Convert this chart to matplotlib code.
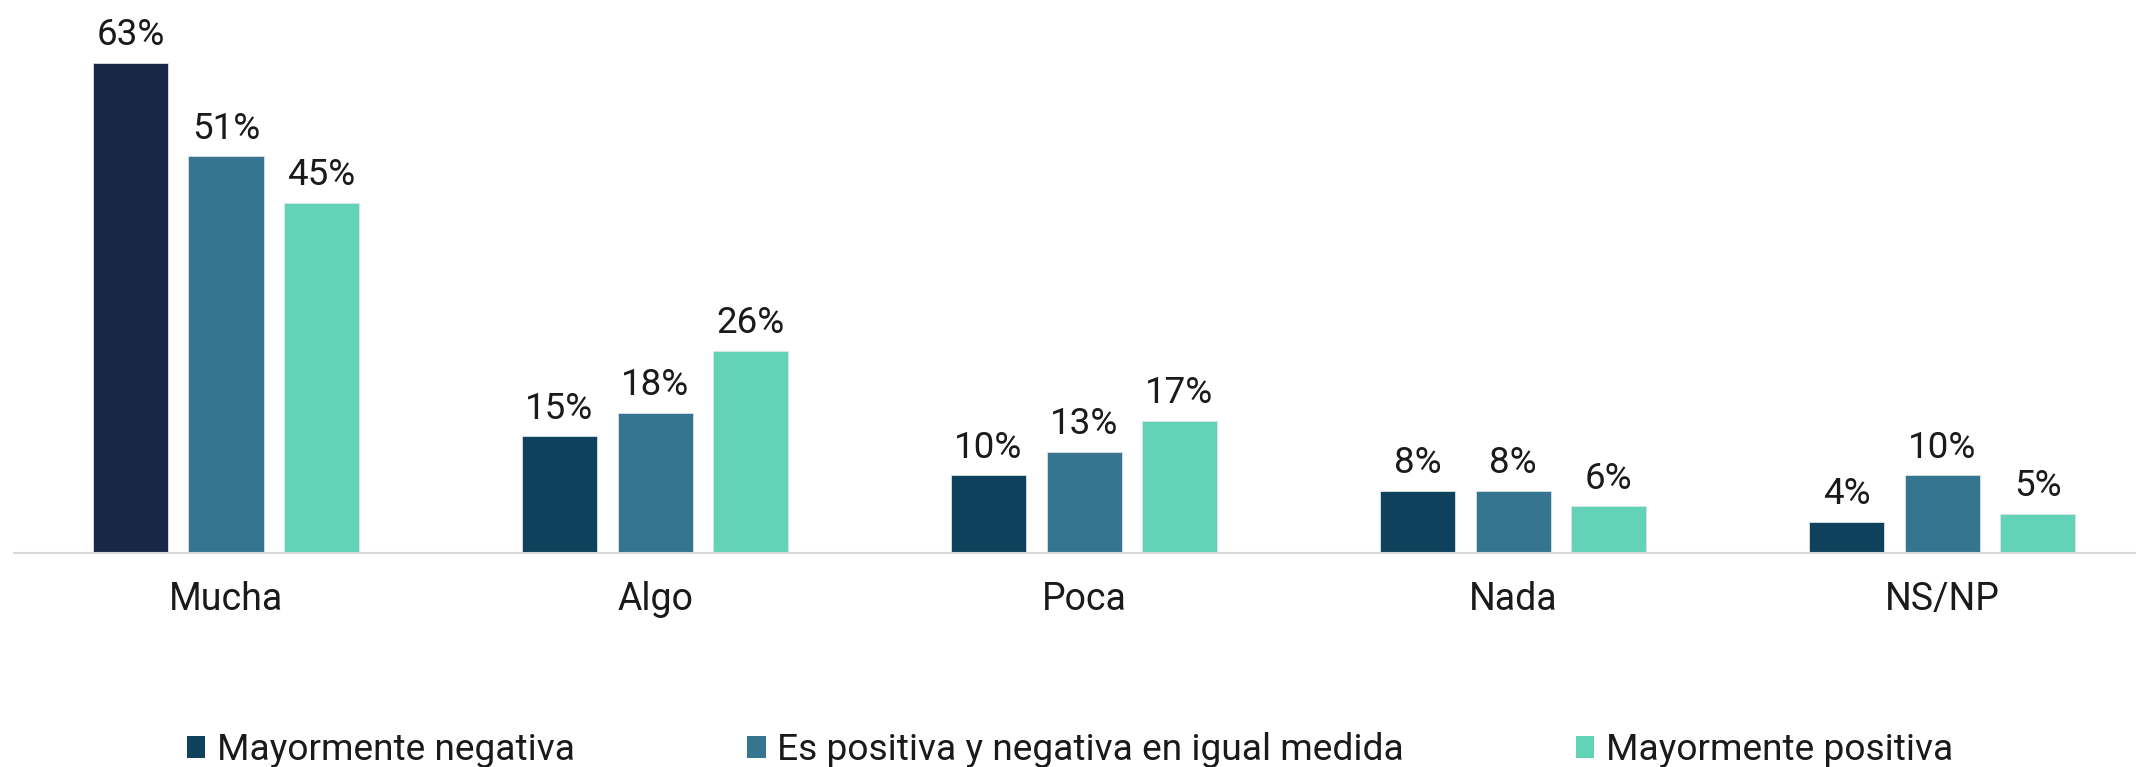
import matplotlib
matplotlib.use("Agg")
import matplotlib.pyplot as plt
from matplotlib.patches import Patch
import numpy as np

plt.rcParams['font.family'] = ['Roboto', 'DejaVu Sans']

# datos
categorias = ["Mucha", "Algo", "Poca", "Nada", "NS/NP"]
series = ["Mayormente negativa", "Es positiva y negativa en igual medida", "Mayormente positiva"]
negativa = [63, 15, 10, 8, 4]
igual = [51, 18, 13, 8, 10]
positiva = [45, 26, 17, 6, 5]
colores = ["#0f405c", "#357590", "#62d3b7"]

valores = [negativa, igual, positiva]

fig = plt.figure(figsize=(21.36, 7.67), dpi=100)
ax = fig.add_axes([0.0066, 0.279, 0.9934, 0.721])

x = np.arange(len(categorias))
ancho = 0.175
paso = 0.2226
barras = []
for i, (serie, vals, col) in enumerate(zip(series, valores, colores)):
    b = ax.bar(x + (i - 1) * paso, vals, width=ancho, color=col,
               edgecolor="#d8e4ea", linewidth=0.6)
    barras.append(b)
    for rect, v in zip(b, vals):
        ax.annotate(f"{v}%", (rect.get_x() + rect.get_width() / 2, v),
                    xytext=(0, 7), textcoords="offset points",
                    ha="center", va="bottom", fontsize=26.5, color="#1a1a1a")

# la primera barra de "Mucha" es mas oscura
barras[0][0].set_facecolor("#182745")

ax.set_xlim(-0.494, 4.452)
ax.set_ylim(0, 71.1)
ax.set_xticks(x)
ax.set_xticklabels(categorias, fontsize=27, color="#1a1a1a")
ax.tick_params(axis="x", length=0, pad=20)
ax.set_yticks([])
for s in ["top", "right", "left"]:
    ax.spines[s].set_visible(False)
ax.spines["bottom"].set_color("#d9d9d9")
ax.spines["bottom"].set_linewidth(1.5)

handles = [Patch(facecolor=c) for c in colores]
fig.legend(handles=handles, labels=series, loc="center left",
           bbox_to_anchor=(0.0875, 0.022), ncol=3, frameon=False,
           fontsize=26.7, handlelength=0.5, handleheight=0.5,
           handletextpad=0.3, columnspacing=4.65, labelcolor="#1a1a1a",
           borderpad=0, borderaxespad=0)

fig.savefig("out.png", dpi=100)
